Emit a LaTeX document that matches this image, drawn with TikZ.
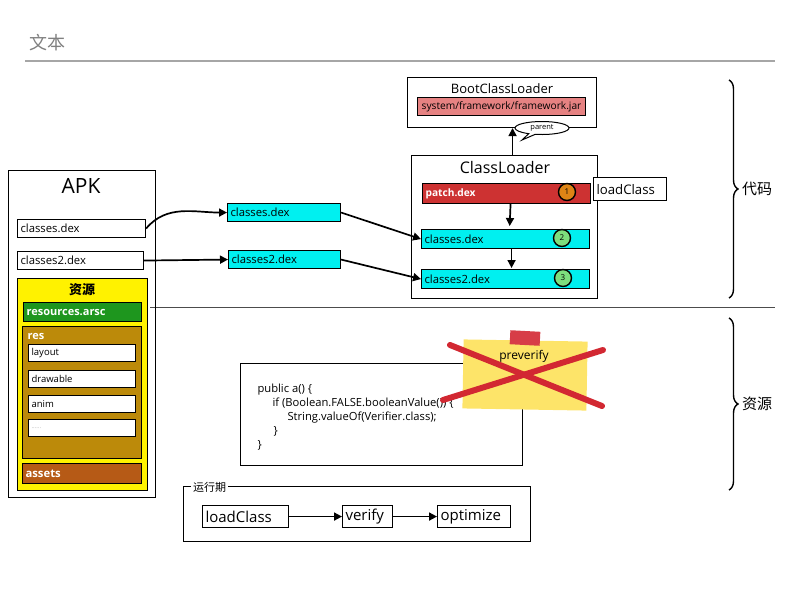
\documentclass[tikz,border=0pt]{standalone}
\usepackage{fontspec}
\setmainfont{Open Sans}
\newfontfamily\cjk{Noto Sans CJK SC}
\usetikzlibrary{arrows.meta,decorations.pathreplacing,shapes.callouts}

\definecolor{dexcyan}{RGB}{0,240,240}
\definecolor{patchred}{RGB}{205,50,50}
\definecolor{jarpink}{RGB}{230,130,130}
\definecolor{arscgreen}{RGB}{30,150,30}
\definecolor{resgold}{RGB}{188,138,10}
\definecolor{assetbrown}{RGB}{182,90,22}
\definecolor{noteyellow}{RGB}{253,228,105}
\definecolor{crossred}{RGB}{210,40,50}
\definecolor{badgeorange}{RGB}{222,132,22}
\definecolor{badgegreen}{RGB}{125,222,125}

\begin{document}
\begin{tikzpicture}[x=1pt, y=-1pt,
  every node/.style={font=\fontsize{11.3}{13}\selectfont},
  box/.style={draw, line width=1.1pt, anchor=north west, inner sep=3pt, align=left, minimum height=18pt},
  link/.style={-{Triangle[length=8pt,width=8pt]}, line width=1.7pt},
  badge/.style={circle, draw, line width=1.4pt, minimum size=17pt, inner sep=0pt, font=\fontsize{8}{9}\selectfont},
  brace/.style={decorate, decoration={brace, amplitude=9pt}, line width=1.4pt}]
\useasboundingbox (0,0) rectangle (800,600);

\node[anchor=west, text=gray, font=\cjk\fontsize{18}{20}\selectfont] (title) at (26,43) {文本};
\draw[gray!70, line width=1.2pt] (25,61) -- (775,61);
\draw[black!70, line width=1pt] (150,307) -- (775,307);

\node[draw, line width=1.1pt, anchor=north west, minimum width=147pt, minimum height=327pt] (apk) at (8,170) {};
\node[font=\fontsize{21}{24}\selectfont] (apkname) at (81,186) {APK};
\node[box, text width=122pt] (apkdex) at (17,219) {classes.dex};
\node[box, text width=120pt] (apkdex2) at (17,251) {classes2.dex};

\node[box, fill=yellow, minimum width=130pt, minimum height=212pt] (resbox) at (17,278) {};
\node[font=\cjk\bfseries\fontsize{13}{15}\selectfont] (restitle) at (82,290) {资源};
\node[box, fill=arscgreen, text=white, text width=112pt, minimum height=19pt, font=\bfseries\fontsize{11}{13}\selectfont] (arsc) at (23,302) {resources.arsc};
\node[box, fill=resgold, minimum width=119pt, minimum height=132pt] (res) at (22,326) {};
\node[anchor=west, text=white, font=\bfseries\fontsize{11}{13}\selectfont] (resname) at (24,336) {res};
\node[box, fill=white, text width=101pt, minimum height=17pt, font=\fontsize{9.5}{11}\selectfont] (layout) at (28,344) {layout};
\node[box, fill=white, text width=101pt, minimum height=17pt, font=\fontsize{9.5}{11}\selectfont] (drawable) at (28,370) {drawable};
\node[box, fill=white, text width=101pt, minimum height=17pt, font=\fontsize{9.5}{11}\selectfont] (anim) at (28,395) {anim};
\node[box, fill=white, text width=101pt, minimum height=17pt, text=gray!60, font=\fontsize{6}{8}\selectfont] (more) at (28,419) {......};
\node[box, fill=assetbrown, text=white, text width=113pt, minimum height=20pt, font=\bfseries\fontsize{11.3}{13}\selectfont] (assets) at (22,463) {assets};

\node[box, fill=dexcyan, text width=107pt] (cdex) at (227,203) {classes.dex};
\node[box, fill=dexcyan, text width=106pt] (c2dex) at (228,250) {classes2.dex};

\node[box, minimum width=189pt, minimum height=50pt] (boot) at (407,77) {};
\node[font=\fontsize{13}{15}\selectfont] (bootname) at (502,89) {BootClassLoader};
\node[box, fill=jarpink, text width=162pt, align=center, font=\fontsize{10.2}{12}\selectfont] (jar) at (417,97) {system/framework/framework.jar};

\node[box, minimum width=186pt, minimum height=143pt] (cloader) at (411,155) {};
\node[font=\fontsize{16}{18}\selectfont] (cloadername) at (505,167) {ClassLoader};
\node[box, fill=patchred, text=white, text width=162pt, minimum height=20pt, font=\bfseries\fontsize{10.2}{12}\selectfont] (patch) at (422,183) {patch.dex};
\node[box, fill=dexcyan, text width=162pt, minimum height=19pt] (cl1) at (421,229) {classes.dex};
\node[box, fill=dexcyan, text width=162pt, minimum height=19pt] (cl2) at (421,269) {classes2.dex};
\node[badge, fill=badgeorange] (b1) at (567,192) {1};
\node[badge, fill=badgegreen] (b2) at (562,238) {2};
\node[badge, fill=badgegreen] (b3) at (563,278) {3};
\node[box, fill=white, text width=67pt, minimum height=23pt, font=\fontsize{13.2}{15}\selectfont] (loadside) at (593,177) {loadClass};

\draw[link] ([xshift=8pt]cloader.north) -- ([xshift=8pt]cloader.north |- boot.south);
\node[ellipse callout, draw, line width=1pt, fill=white, inner sep=1pt, minimum width=54pt, minimum height=13pt, font=\fontsize{7.5}{8}\selectfont, callout absolute pointer={(522,140)}] (parent) at (542,128) {parent};

\draw[link] (apkdex.east) to[out=50, in=180] (cdex.west);
\draw[link] (apkdex2.east) -- (c2dex.west);
\draw[link] (cdex.east) -- (cl1.west);
\draw[link] (c2dex.east) -- (cl2.west);
\draw[link, shorten >=3pt] ([xshift=4pt]patch.south) -- ([xshift=4pt]cl1.north);
\draw[link, shorten >=1pt] ([xshift=6pt]cl1.south) -- ([xshift=6pt]cl2.north);

\draw[brace] (729,80) -- (729,298) node[midway, right=9pt, font=\cjk\fontsize{15}{17}\selectfont] (codelabel) {代码};
\draw[brace] (729,318) -- (729,490) node[midway, right=9pt, font=\cjk\fontsize{15}{17}\selectfont] (reslabel) {资源};

\node[box, minimum width=282pt, minimum height=102pt] (code) at (240,363) {};
\node[anchor=north west, align=left, font=\fontsize{11.2}{14}\selectfont] (codetext) at (254,380) {public a() \{\\
\hspace*{15pt}if (Boolean.FALSE.booleanValue()) \{\\
\hspace*{30pt}String.valueOf(Verifier.class);\\
\hspace*{16pt}\}\\
\}};

\node[fill=noteyellow, rotate=-1, minimum width=124pt, minimum height=69pt] (note) at (525,375) {};
\node[fill=crossred!90, rotate=-3, minimum width=30pt, minimum height=14pt, inner sep=0pt] (tape) at (525,338) {};
\node[font=\fontsize{12}{14}\selectfont] (preverify) at (524,356) {preverify};
\draw[crossred, line width=6pt, line cap=round] (450,345) -- (602,406);
\draw[crossred, line width=6pt, line cap=round] (443,400) -- (603,350);

\node[draw, line width=1.1pt, anchor=north west, minimum width=347pt, minimum height=55pt] (runtime) at (183,486) {};
\node[anchor=west, fill=white, inner sep=2pt, font=\cjk\fontsize{11}{13}\selectfont] (runname) at (191,487) {运行期};
\node[box, text width=80pt, minimum height=22pt, font=\fontsize{15}{17}\selectfont] (rload) at (202,505) {loadClass};
\node[box, text width=44pt, minimum height=22pt, font=\fontsize{15}{17}\selectfont] (rverify) at (342,505) {verify};
\node[box, text width=67pt, minimum height=22pt, font=\fontsize{15}{17}\selectfont] (ropt) at (437,505) {optimize};
\draw[link] (rload.east) -- (rverify.west);
\draw[link] (rverify.east) -- (ropt.west);
\end{tikzpicture}
\end{document}
